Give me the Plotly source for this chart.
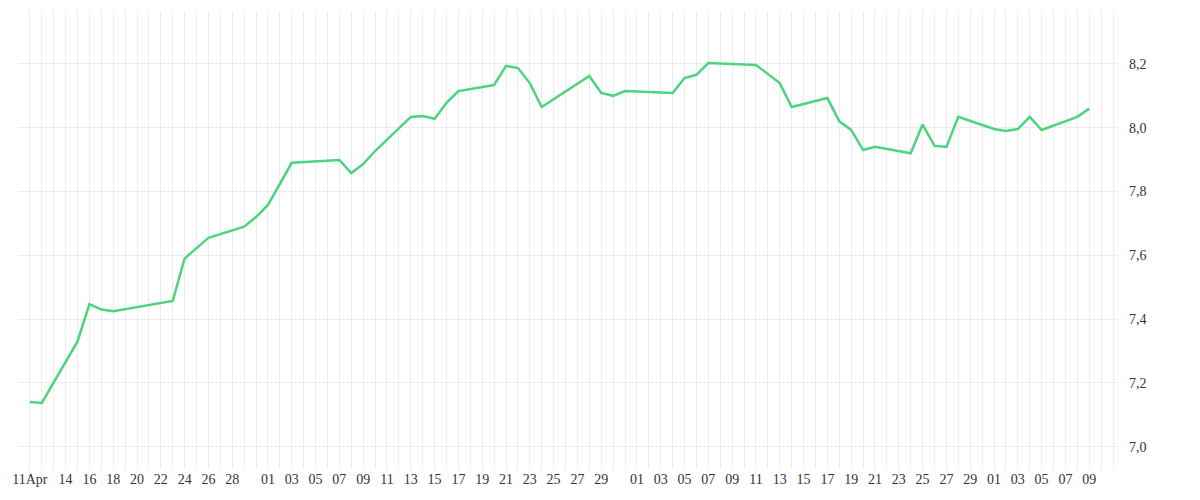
import plotly.graph_objects as go

dates = ["2024-04-11","2024-04-12","2024-04-15","2024-04-16","2024-04-17","2024-04-18","2024-04-23","2024-04-24",
         "2024-04-26","2024-04-29","2024-04-30","2024-05-01","2024-05-03","2024-05-07","2024-05-08","2024-05-09",
         "2024-05-10","2024-05-13","2024-05-14","2024-05-15","2024-05-16","2024-05-17","2024-05-20","2024-05-21",
         "2024-05-22","2024-05-23","2024-05-24","2024-05-28","2024-05-29","2024-05-30","2024-05-31","2024-06-03",
         "2024-06-04","2024-06-05","2024-06-06","2024-06-07","2024-06-10","2024-06-11","2024-06-13","2024-06-14",
         "2024-06-17","2024-06-18","2024-06-19","2024-06-20","2024-06-21","2024-06-24","2024-06-25","2024-06-26",
         "2024-06-27","2024-06-28","2024-07-01","2024-07-02","2024-07-03","2024-07-04","2024-07-05","2024-07-08",
         "2024-07-09"]
values = [7.14,7.137,7.33,7.447,7.43,7.425,7.457,7.59,
          7.655,7.69,7.72,7.758,7.89,7.899,7.858,7.886,
          7.927,8.034,8.037,8.028,8.078,8.115,8.134,8.194,
          8.187,8.14,8.065,8.162,8.109,8.1,8.115,8.109,
          8.109,8.156,8.166,8.203,8.197,8.197,8.14,8.065,
          8.093,8.02,7.993,7.93,7.94,7.92,8.01,7.943,
          7.94,8.034,7.996,7.99,7.996,8.034,7.993,8.034,
          8.06]

tick_dates = ["2024-04-11","2024-04-14","2024-04-16","2024-04-18","2024-04-20","2024-04-22","2024-04-24","2024-04-26","2024-04-28",
              "2024-05-01","2024-05-03","2024-05-05","2024-05-07","2024-05-09","2024-05-11","2024-05-13","2024-05-15","2024-05-17",
              "2024-05-19","2024-05-21","2024-05-23","2024-05-25","2024-05-27","2024-05-29",
              "2024-06-01","2024-06-03","2024-06-05","2024-06-07","2024-06-09","2024-06-11","2024-06-13","2024-06-15","2024-06-17",
              "2024-06-19","2024-06-21","2024-06-23","2024-06-25","2024-06-27","2024-06-29",
              "2024-07-01","2024-07-03","2024-07-05","2024-07-07","2024-07-09"]
tick_labels = ["11Apr","14","16","18","20","22","24","26","28",
               "01","03","05","07","09","11","13","15","17","19","21","23","25","27","29",
               "01","03","05","07","09","11","13","15","17","19","21","23","25","27","29",
               "01","03","05","07","09"]

fig = go.Figure(go.Scatter(x=dates, y=values, mode="lines",
                           line=dict(color="#4cd47f", width=2.5)))
fig.update_layout(
    width=1200, height=500, margin=dict(l=10, r=90, t=3, b=39),
    paper_bgcolor="white", plot_bgcolor="white", showlegend=False,
    separators=", ",
    font=dict(family="Liberation Serif", size=14, color="#333"),
)
fig.update_xaxes(range=["2024-04-10", "2024-07-11 10:00"], tickvals=tick_dates, ticktext=tick_labels,
                 automargin=False,
                 showgrid=True, gridcolor="#ececec", gridwidth=1, zeroline=False, showline=False,
                 tickmode="array",
                 minor=dict(showgrid=True, gridcolor="#ececec", dtick=86400000, tick0="2024-04-11"),
                 tickangle=0, ticks="")
fig.update_yaxes(side="right", range=[6.93, 8.366], tickvals=[7.0,7.2,7.4,7.6,7.8,8.0,8.2],
                 ticktext=["7,0","7,2","7,4","7,6","7,8","8,0","8,2"], automargin=False,
                 showgrid=True, gridcolor="#ececec", zeroline=False, ticks="", ticklabelstandoff=10)
fig.write_html("out.html")
